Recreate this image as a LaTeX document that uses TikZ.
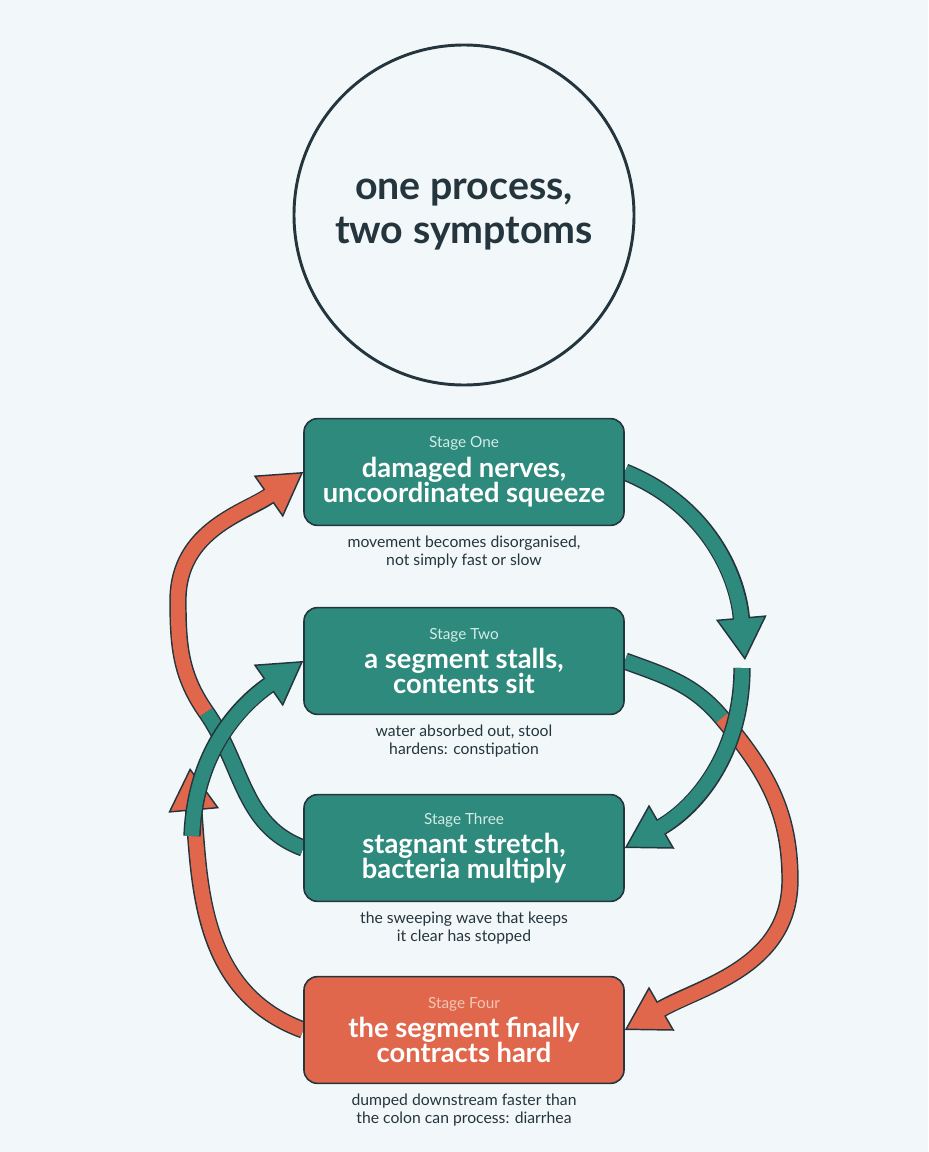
\documentclass[tikz,border=0pt]{standalone}
\usepackage{fontspec}
\setmainfont{Lato}
\usetikzlibrary{positioning,arrows.meta,backgrounds}
\definecolor{bgcol}{HTML}{F2F8FA}
\definecolor{inkcol}{HTML}{25353D}
\definecolor{tealcol}{HTML}{2E8A7C}
\definecolor{orangecol}{HTML}{E0674C}
\definecolor{labelcol}{HTML}{D3ECE7}
\definecolor{labelorange}{HTML}{F4C6B8}
\tikzset{
x=0.75pt, y=0.75pt,
stage/.style={draw=inkcol,line width=1.2pt,fill=tealcol,rounded corners=10pt,
  minimum width=240pt,minimum height=80pt,align=center,text=white,inner sep=2pt,
  font=\bfseries\fontsize{20.5}{19}\selectfont},
caption/.style={align=center,text=inkcol,font=\fontsize{11.8}{13.5}\selectfont,inner sep=0pt},
fatarrow/.style={line width=13pt,draw=inkcol,
  -{Triangle[length=32pt,width=38pt,line width=1.1pt,fill=#1]}},
fatfill/.style={line width=10.8pt,draw=#1,shorten >=29pt}
}
% outlined thick arrow: colour, path
\newcommand\fatpath[2]{\draw[fatarrow=#1] #2; \draw[fatfill=#1] #2;}
\newcommand\stagelabel[2]{\textcolor{#1}{\mdseries\fontsize{11.5}{13}\selectfont #2}}
\begin{document}
\begin{tikzpicture}
\useasboundingbox (0,0) rectangle (928,-1152);

\node[draw=inkcol,line width=2.2pt,circle,minimum size=255pt,align=center,
  text=inkcol,font=\bfseries\fontsize{29.5}{33}\selectfont] (title) at (464,-215)
  {one process,\\two symptoms};

\node[stage] (st1) at (464,-472) {\stagelabel{labelcol}{Stage One}\\[3pt]damaged nerves,\\uncoordinated squeeze};
\node[caption,below=7pt of st1] (cap1) {movement becomes disorganised,\\not simply fast or slow};
\node[stage] (st2) at (464,-661) {\stagelabel{labelcol}{Stage Two}\\[3pt]a segment stalls,\\contents sit};
\node[caption,below=7pt of st2] (cap2) {water absorbed out, stool\\hardens: constipation};
\node[stage] (st3) at (464,-848) {\stagelabel{labelcol}{Stage Three}\\[3pt]stagnant stretch,\\bacteria multiply};
\node[caption,below=7pt of st3] (cap3) {the sweeping wave that keeps\\it clear has stopped};
\node[stage,fill=orangecol] (st4) at (464,-1030) {\stagelabel{labelorange}{Stage Four}\\[3pt]the segment finally\\contracts hard};
\node[caption,below=7pt of st4] (cap4) {dumped downstream faster than\\the colon can process: diarrhea};

\coordinate (leftcross) at (206,-712);
\coordinate (leftmost) at (178,-600);
\coordinate (rightcross) at (722,-718);
\coordinate (rightmost) at (790,-880);
\coordinate (tealtail) at (742,-668);
\coordinate (leftlow) at (192,-836);

\begin{scope}[on background layer]
\fill[bgcol] (0,0) rectangle (928,-1152);
% the long arcs change colour where they cross
\draw[fatarrow=orangecol] (st3.west) to[out=160,in=-55] (leftcross) to[out=125,in=-90] (leftmost) to[out=90,in=215] (st1.west);
\draw[line width=10.8pt,tealcol] (st3.west) to[out=160,in=-55] (leftcross);
\draw[fatfill=orangecol] (leftcross) to[out=125,in=-90] (leftmost) to[out=90,in=215] (st1.west);
\draw[fatarrow=orangecol] (st2.east) to[out=-20,in=130] (rightcross) to[out=-50,in=90] (rightmost) to[out=-90,in=30] (st4.east);
\draw[line width=10.8pt,tealcol] (st2.east) to[out=-20,in=130] (rightcross);
\draw[fatfill=orangecol] (rightcross) to[out=-50,in=90] (rightmost) to[out=-90,in=30] (st4.east);
% short arrows on top
\fatpath{tealcol}{(st1.east) to[out=-22,in=95] (745,-660)}
\fatpath{tealcol}{(tealtail) to[out=-90,in=30] (st3.east)}
\fatpath{orangecol}{(st4.west) to[out=160,in=-85] (190,-768)}
\fatpath{tealcol}{(leftlow) to[out=88,in=215] (st2.west)}
\end{scope}
\end{tikzpicture}
\end{document}
